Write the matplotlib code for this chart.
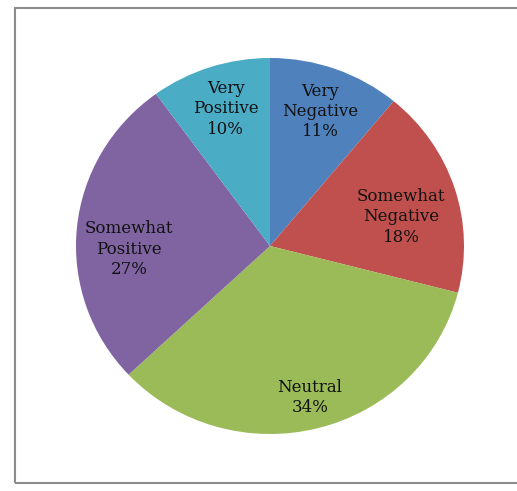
import numpy as np
import matplotlib.pyplot as plt
from matplotlib.patches import Rectangle

categories = ["Very\nNegative", "Somewhat\nNegative", "Neutral", "Somewhat\nPositive", "Very\nPositive"]
shares = [11, 18, 34, 27, 10]
colors = ["#4F81BD", "#C0504D", "#9BBB59", "#8064A2", "#4BACC6"]

# label placement: distance from centre along the slice middle, plus a small vertical nudge
label_dist = [0.76, 0.71, 0.83, 0.73, 0.74]
label_dy = [0.0, -0.065, 0.0, -0.085, 0.025]

W, H = 517, 491
fig = plt.figure(figsize=(W / 100, H / 100), dpi=100)

# chart border (right side runs off the image)
fig.patches.append(Rectangle((15 / W, 8 / H), 520 / W, 475 / H, transform=fig.transFigure,
                             fill=False, edgecolor="#8c8c8c", linewidth=1.5))

# pie area (slightly wider than tall)
ax = fig.add_axes([76 / W, 1 - 434 / H, 388 / W, 376 / H])
wedges, _ = ax.pie(shares, colors=colors, startangle=90, counterclock=False,
                   wedgeprops=dict(linewidth=0))
ax.set_aspect("auto")
ax.set_xlim(-1, 1)
ax.set_ylim(-1, 1)
ax.axis("off")

for w, name, val, d, dy in zip(wedges, categories, shares, label_dist, label_dy):
    ang = np.deg2rad((w.theta1 + w.theta2) / 2)
    ax.text(d * np.cos(ang), d * np.sin(ang) + dy, f"{name}\n{val}%",
            ha="center", va="center", fontsize=12, family="DejaVu Serif",
            color="#111111", linespacing=1.25)

fig.savefig("out.png", dpi=100)
